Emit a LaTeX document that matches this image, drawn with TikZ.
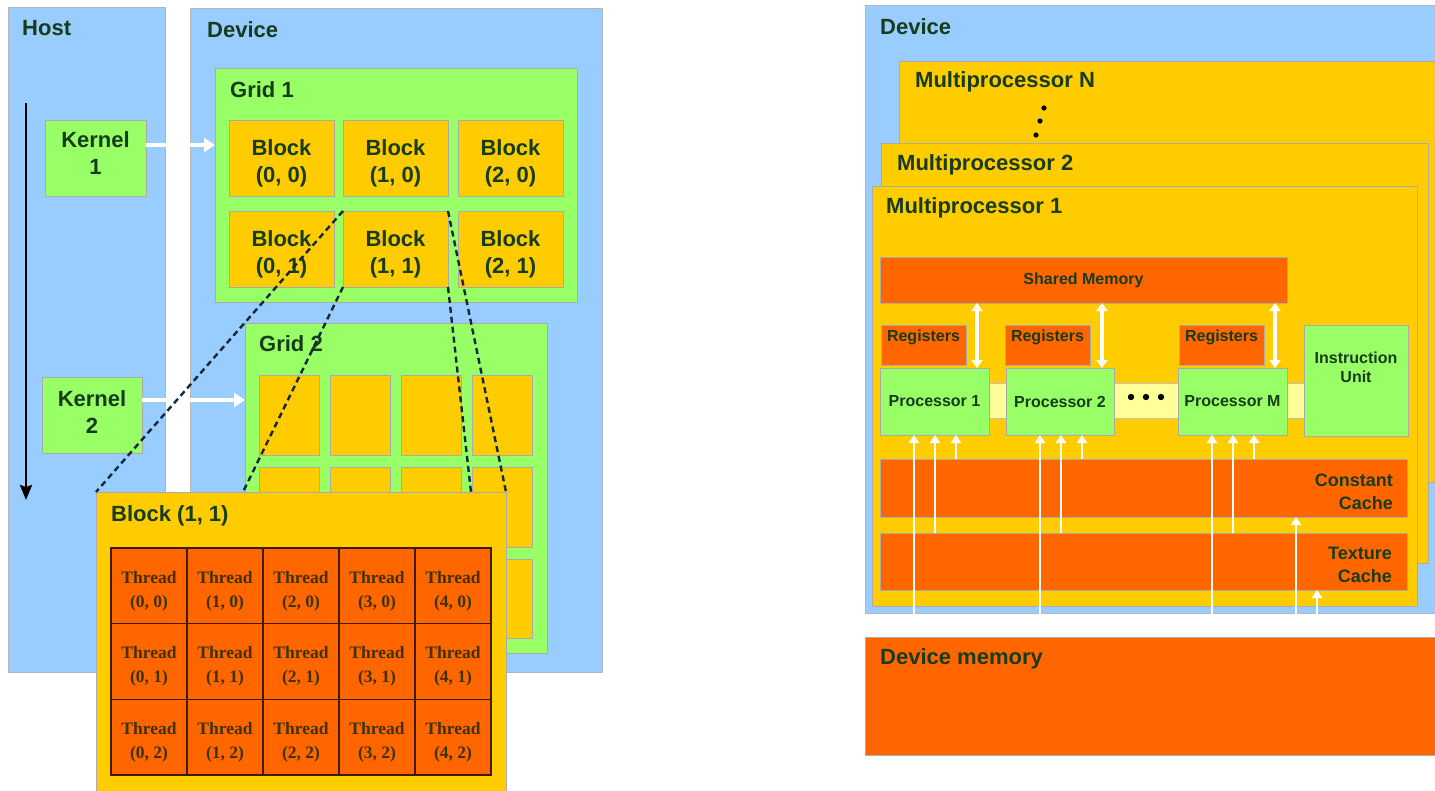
\documentclass[tikz,border=0pt]{standalone}
\usepackage{fontspec}
\setmainfont{Liberation Sans}
\newfontfamily\thrfont{Liberation Serif}
\usetikzlibrary{arrows.meta,calc}

\definecolor{panelblue}{HTML}{99CCFF}
\definecolor{gridgreen}{HTML}{99FF66}
\definecolor{blockgold}{HTML}{FFCC00}
\definecolor{memorange}{HTML}{FF6600}
\definecolor{buscream}{HTML}{FFFF99}
\definecolor{labelgreen}{RGB}{22,60,28}
\definecolor{threadink}{RGB}{62,50,0}
\definecolor{dashink}{RGB}{20,40,60}
\definecolor{edgegray}{RGB}{150,150,150}

% rectangle node given by its corners: name, style, x1, y1, x2, y2
\newcommand\RB[6]{\node[#2, anchor=north west, inner sep=0pt, outer sep=0pt,
  minimum width={(#5-#3)*1pt}, minimum height={(#6-#4)*1pt}] (#1) at (#3,#4) {};}
% the same with a centred caption: name, box style, caption style, x1, y1, x2, y2, caption
\newcommand\RBT[8]{\RB{#1}{#2}{#4}{#5}{#6}{#7}%
  \node[#3] (#1-t) at (#1.center) {#8};}

\tikzset{
  panel/.style={fill=panelblue, draw=edgegray!70, line width=0.8pt},
  greenbox/.style={fill=gridgreen, draw=edgegray!80, line width=0.8pt},
  goldbox/.style={fill=blockgold, draw=edgegray!80, line width=0.8pt},
  orangebox/.style={fill=memorange, draw=edgegray!80, line width=0.8pt},
  busbox/.style={fill=buscream, draw=edgegray!60, line width=0.8pt},
  threadcell/.style={fill=memorange, draw=black!75!memorange, line width=1.3pt,
    inner sep=0pt, outer sep=0pt, minimum width=76pt, minimum height=75.67pt},
  threadlbl/.style={text=threadink, font=\thrfont\fontsize{17.5}{24}\selectfont\bfseries,
    align=center, inner sep=0pt, yshift=-5pt},
  lbl/.style={text=labelgreen, font=\fontsize{22}{27}\selectfont\bfseries, inner sep=0pt, align=center},
  midlbl/.style={text=labelgreen, font=\fontsize{18}{23}\selectfont\bfseries, inner sep=0pt, align=right},
  smalllbl/.style={text=labelgreen, font=\fontsize{16}{19}\selectfont\bfseries, inner sep=0pt, align=center},
  whitearrow/.style={draw=white, line width=4pt, -{Triangle[length=11pt,width=14pt]}},
  timearrow/.style={draw=black, line width=2.6pt, -{Stealth[length=15pt,width=12pt,inset=2pt]}},
  uparrow/.style={draw=white, line width=2.8pt, -{Triangle[length=8pt,width=10pt]}},
  twoway/.style={draw=white, line width=3.2pt, {Triangle[length=8pt,width=11pt]}-{Triangle[length=8pt,width=11pt]}},
  zoomline/.style={draw=dashink, line width=2.4pt, dash pattern=on 6pt off 4pt},
}

\begin{document}
\begin{tikzpicture}[x=1pt,y=-1pt]
\useasboundingbox (0,0) rectangle (1435,790);
\fill[white] (0,0) rectangle (1435,790);

% ---------- host and device (programming model) ----------
\RB{host}{panel}{8}{7}{165}{672}
\node[lbl, anchor=west] (hostlbl) at (22,28) {Host};
\RB{devl}{panel}{190}{8}{602}{672}
\node[lbl, anchor=west] (devllbl) at (207,30) {Device};

\RBT{k1}{greenbox}{lbl, yshift=5pt}{45}{120}{146}{196}{Kernel\\1}
\RBT{k2}{greenbox}{lbl, yshift=3pt}{42}{377}{142}{453}{Kernel\\2}

% grid 1
\RB{g1}{greenbox}{215}{68}{577}{302}
\node[lbl, anchor=west] (g1lbl) at (230,90) {Grid 1};
\RBT{g1b00}{goldbox}{lbl, yshift=-5pt}{229}{120}{334}{196}{Block\\(0, 0)}
\RBT{g1b10}{goldbox}{lbl, yshift=-5pt}{343}{120}{448}{196}{Block\\(1, 0)}
\RBT{g1b20}{goldbox}{lbl, yshift=-5pt}{458}{120}{563}{196}{Block\\(2, 0)}
\RBT{g1b01}{goldbox}{lbl, yshift=-5pt}{229}{211}{334}{287}{Block\\(0, 1)}
\RBT{g1b11}{goldbox}{lbl, yshift=-5pt}{343}{211}{448}{287}{Block\\(1, 1)}
\RBT{g1b21}{goldbox}{lbl, yshift=-5pt}{458}{211}{563}{287}{Block\\(2, 1)}

% grid 2
\RB{g2}{greenbox}{245}{323}{547}{653}
\node[lbl, anchor=west] (g2lbl) at (259,344) {Grid 2};
\foreach \c/\xa/\xb in {0/259/319, 1/330/390, 2/401/461, 3/472/532}
  \foreach \r/\ya/\yb in {0/375/455, 1/467/547, 2/559/638}
    {\RB{g2b\c\r}{goldbox}{\xa}{\ya}{\xb}{\yb}}

% kernel launches
\path (k1.east) ++(0,-13) coordinate (k1out);
\draw[whitearrow] (k1out) -- (k1out -| g1.west);
\path (k2.east) ++(0,-15) coordinate (k2out);
\draw[whitearrow] (k2out) -- (k2out -| g2.west);

% time axis
\coordinate (tstart) at (26,103);
\coordinate (tend) at (26,500);
\draw[timearrow] (tstart) -- (tend);

% enlarged block (1,1)
\RB{big}{goldbox}{96}{492}{506}{800}
\coordinate (bigA) at ($(big.north west)!0.3585!(big.north east)$);
\coordinate (bigB) at ($(big.north west)!0.9146!(big.north east)$);
\draw[zoomline] (g1b11.north west) -- (big.north west);
\draw[zoomline] (g1b11.south west) -- (bigA);
\draw[zoomline] (g1b11.north east) -- (big.north east);
\draw[zoomline] (g1b11.south east) -- (bigB);
\node[lbl, anchor=west] (biglbl) at (111,516) {Block (1, 1)};
\foreach \c in {0,...,4}
  \foreach \r in {0,1,2}
    {\node[threadcell] (t\c\r) at ({149+76*\c},{585.8+75.67*\r}) {};
     \node[threadlbl] (t\c\r-t) at (t\c\r.center) {Thread\\(\c, \r)};}

% ---------- hardware model ----------
\RB{devr}{panel}{865}{5}{1440}{613}
\node[lbl, anchor=west] (devrlbl) at (880,27) {Device};

\RB{mpn}{goldbox}{899}{61}{1440}{482}
\node[lbl, anchor=west] (mpnlbl) at (915,82) {Multiprocessor N};
\fill[black] (1044,108) circle (2.6) (1040,121) circle (2.6) (1036,135) circle (2.6);

\RB{mp2}{goldbox}{881}{143}{1428}{563}
\node[lbl, anchor=west] (mp2lbl) at (897,165) {Multiprocessor 2};

\RB{mp1}{goldbox}{872}{186}{1417}{606}
\node[lbl, anchor=west] (mp1lbl) at (886,208) {Multiprocessor 1};

\RBT{shmem}{orangebox}{smalllbl}{880}{257}{1287}{303}{Shared Memory}

\RB{reg1}{orangebox}{881}{325}{966}{365}
\node[smalllbl, anchor=north] (reg1lbl) at (923.5,330) {Registers};
\RB{reg2}{orangebox}{1005}{325}{1090}{365}
\node[smalllbl, anchor=north] (reg2lbl) at (1047.5,330) {Registers};
\RB{regm}{orangebox}{1179}{325}{1264}{365}
\node[smalllbl, anchor=north] (regmlbl) at (1221.5,330) {Registers};

\RB{bus}{busbox}{989}{383}{1304}{418}
\fill[black] (1131,397) circle (3.2) (1146,397) circle (3.2) (1161,397) circle (3.2);

\RBT{p1}{greenbox}{smalllbl}{880}{368}{989}{435}{Processor 1}
\RBT{p2}{greenbox}{smalllbl}{1006}{368}{1114}{435}{Processor 2}
\RBT{pm}{greenbox}{smalllbl}{1178}{368}{1287}{435}{Processor M}
\RB{iu}{greenbox}{1304}{325}{1408}{436}
\node[smalllbl, anchor=north] (iulbl) at (1356,352) {Instruction\\Unit};

\RB{ccache}{orangebox}{880}{459}{1407}{517}
\node[midlbl, anchor=north east] (cclbl) at (1393,474) {Constant\\Cache};
\RB{tcache}{orangebox}{880}{533}{1407}{590}
\node[midlbl, anchor=north east] (tclbl) at (1392,547) {Texture\\Cache};

\RB{dmem}{orangebox}{865}{637}{1440}{755}
\node[lbl, anchor=west] (dmemlbl) at (880,659) {Device memory};

% data paths
\foreach \p in {p1,p2,pm} {
  \path (\p.north east) ++(-12,0) coordinate (\p-r);
  \draw[twoway] (\p-r |- shmem.south) -- (\p-r);
  \path (\p.south west) ++(34,0) coordinate (\p-a) ++(21,0) coordinate (\p-b) ++(21,0) coordinate (\p-c);
  \draw[uparrow] (\p-a |- dmem.north) -- (\p-a);
  \draw[uparrow] (\p-b |- tcache.north) -- (\p-b);
  \draw[uparrow] (\p-c |- ccache.north) -- (\p-c);
}
\path (ccache.south west) ++(416,0) coordinate (cfill);
\draw[uparrow] (cfill |- dmem.north) -- (cfill);
\path (tcache.south west) ++(437,0) coordinate (tfill);
\draw[uparrow] (tfill |- dmem.north) -- (tfill);
\end{tikzpicture}
\end{document}
